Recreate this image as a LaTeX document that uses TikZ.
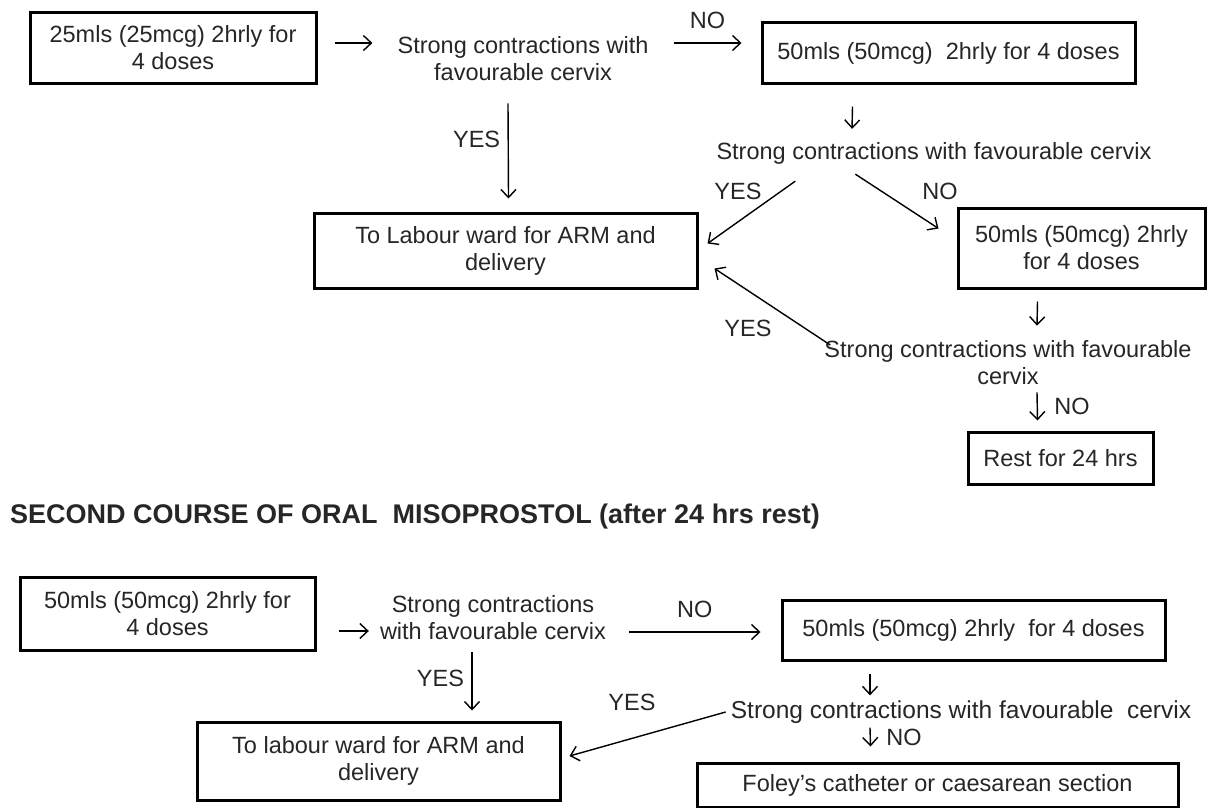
\documentclass[tikz,border=0pt]{standalone}
\usepackage{fontspec}
\setmainfont{Liberation Sans}
\usetikzlibrary{arrows.meta,positioning}

\newcommand{\txt}{\fontsize{23.5}{27}\selectfont}
\tikzset{
  box/.style={draw, line width=3pt, align=center, inner sep=0pt},
  plain/.style={align=center, inner sep=0pt},
  flow/.style={-{Straight Barb[length=8pt,width=15pt]}, line width=1.4pt},
}

\begin{document}
\begin{tikzpicture}[x=1pt, y=-1pt, text=black!85, font=\txt]
\useasboundingbox (0,0) rectangle (1207,808);

% first course
\node[box, minimum width=286pt, minimum height=70pt] (dose1) at (173,48) {25mls (25mcg) 2hrly for\\4 doses};
\node[plain] (check1) at (523,59) {Strong contractions with\\favourable cervix};
\node[box, minimum width=373pt, minimum height=60pt] (dose2) at (948.5,53) {50mls (50mcg)\ \ 2hrly for 4 doses};
\node[plain] (check2) at (934,153) {Strong contractions with favourable cervix};
\node[box, minimum width=383pt, minimum height=75pt] (ward1) at (505.5,250.5) {To Labour ward for ARM and\\delivery};
\node[box, minimum width=247pt, minimum height=80pt] (dose3) at (1081.5,248) {50mls (50mcg) 2hrly\\for 4 doses};
\node[plain] (check3) at (1008,363) {Strong contractions with favourable\\cervix};
\node[box, minimum width=185pt, minimum height=52pt] (rest) at (1060.5,458) {Rest for 24 hrs};

\draw[flow] ([shift={(17,-5)}]dose1.east) -- ([shift={(-25,-16)}]check1.west);
\draw[flow] ([shift={(25,-16)}]check1.east) -- node[above=10pt] {NO} ([shift={(-19,-10)}]dose2.west);
\draw[flow] ([shift={(-15,22)}]check1.south) -- node[pos=0.38, left=4pt] {YES} ([shift={(3,-13)}]ward1.north);
\draw[flow] ([shift={(-96,22)}]dose2.south) -- ([shift={(-82,-13)}]check2.north);
\draw[flow] ([shift={(79,17)}]check2.south west) -- ([shift={(9,-7)}]ward1.east);
\node[plain] (yes2) at (738,191) {YES};
\draw[flow] ([shift={(139,10)}]check2.south west) -- ([shift={(-18,-19.5)}]dose3.west);
\node[plain] (no2) at (940,191) {NO};
\draw[flow] ([shift={(-44,12)}]dose3.south) -- ([shift={(29,-15)}]check3.north);
\draw[flow] ([shift={(6,-18)}]check3.west) -- ([shift={(16,18)}]ward1.east);
\node[plain] (yes3) at (748,328) {YES};
\draw[flow] ([shift={(29,7)}]check3.south) -- node[right=13pt] {NO} ([shift={(-23,-10)}]rest.north);

% second course
\node[anchor=west, inner sep=0pt, font=\bfseries\fontsize{27}{30}\selectfont] (title) at (10,517) {SECOND COURSE OF ORAL\ \ MISOPROSTOL (after 24 hrs rest)};

\node[box, minimum width=295pt, minimum height=73pt] (dose4) at (167.5,613.5) {50mls (50mcg) 2hrly for\\4 doses};
\node[plain] (check4) at (493,618) {Strong contractions\\with favourable cervix};
\node[box, minimum width=383pt, minimum height=60pt] (dose5) at (973.5,630) {50mls (50mcg) 2hrly\ \ for 4 doses};
\node[plain, font=\fontsize{24.5}{28}\selectfont] (check5) at (961,712) {Strong contractions with favourable\ \ cervix};
\node[box, minimum width=363pt, minimum height=78pt] (ward2) at (378.5,761) {To labour ward for ARM and\\delivery};
\node[box, minimum width=481pt, minimum height=44pt] (foley) at (937.5,785) {Foley's catheter or caesarean section};

\draw[flow] ([shift={(22,17.5)}]dose4.east) -- ([shift={(-11,13)}]check4.west);
\draw[flow] ([shift={(23,14)}]check4.east) -- node[above=10pt] {NO} ([shift={(-20,2)}]dose5.west);
\draw[flow] ([shift={(-21,12)}]check4.south) -- node[pos=0.45, left=4pt] {YES} ([shift={(93.5,-10)}]ward2.north);
\draw[flow] ([shift={(-103.5,12)}]dose5.south) -- ([shift={(-91,-5)}]check5.north);
\draw[flow] ([shift={(-5,0)}]check5.west) -- ([shift={(8,-5)}]ward2.east);
\node[plain] (yes5) at (632,702) {YES};
\draw[flow] ([shift={(-91,4)}]check5.south) -- node[right=12pt] {NO} ([shift={(-67,-15)}]foley.north);
\end{tikzpicture}
\end{document}
